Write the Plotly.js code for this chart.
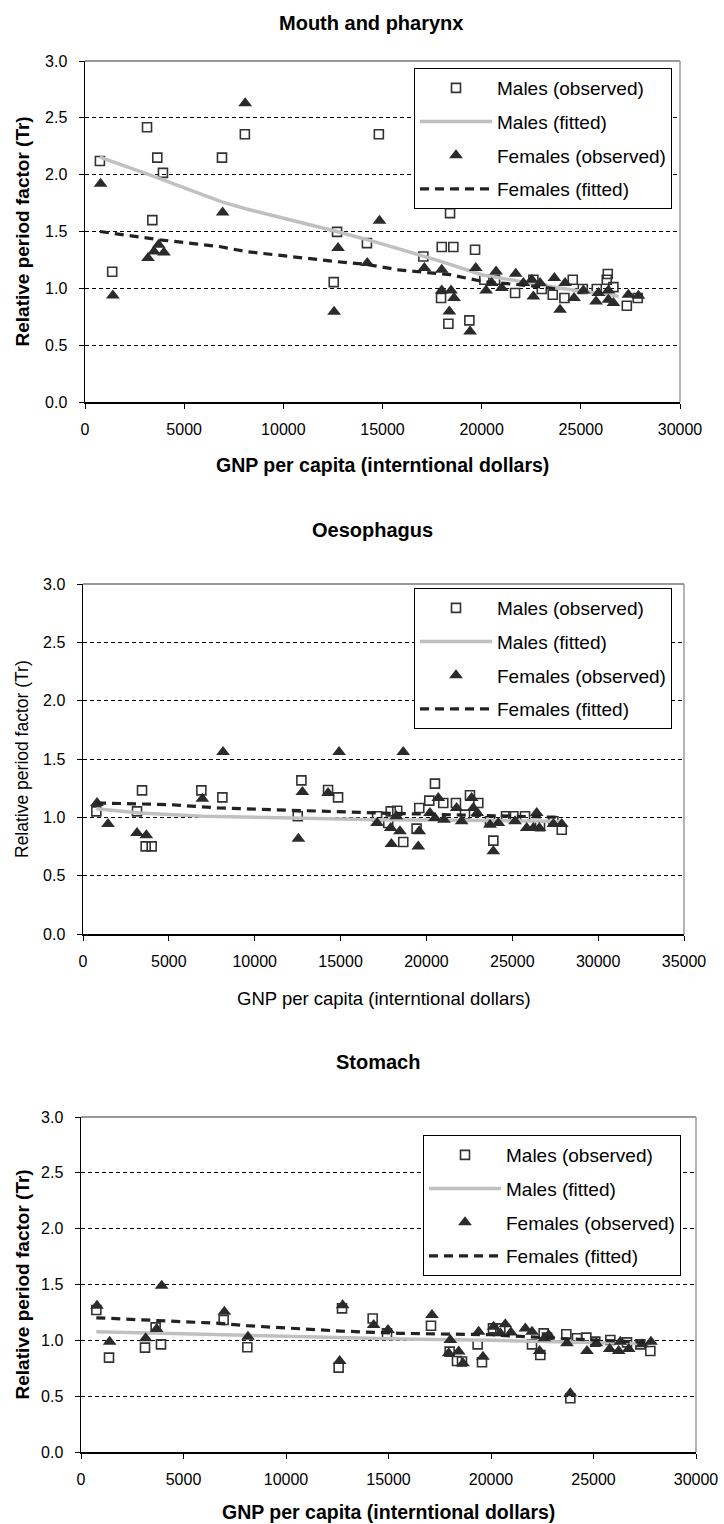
<!DOCTYPE html>
<html><head><meta charset="utf-8">
<script src="https://cdn.plot.ly/plotly-3.0.1.min.js"></script>
<style>
body{margin:0;background:#fff;width:724px;height:1524px;position:relative;overflow:hidden}
.p{position:absolute;left:0;width:724px;height:508px}
</style></head>
<body>
<div id="c1" class="p" style="top:0px"></div>
<div id="c2" class="p" style="top:508px"></div>
<div id="c3" class="p" style="top:1016px"></div>
<script>
// ---------------- DATA ----------------
var seriesNames = ["Males (observed)", "Males (fitted)", "Females (observed)", "Females (fitted)"];
var panelTitles = ["Mouth and pharynx", "Oesophagus", "Stomach"];
var xAxisTitle = "GNP per capita (interntional dollars)";
var yAxisTitle = "Relative period factor (Tr)";

// Mouth and pharynx
var mouthMaleX = [752,1371,3127,3395,3645,3930,6906,8060,12542,12709,14214,14816,17060,17987,18571,18406,19667,17952,18321,19380,20136,20676,21684,22607,23030,23585,24172,24593,25098,25804,26308,26358,26643,27318,27871];
var mouthMaleY = [2.12,1.146,2.417,1.60,2.15,2.016,2.15,2.356,1.055,1.497,1.398,2.356,1.28,1.363,1.363,1.662,1.339,0.915,0.689,0.718,1.076,1.076,0.959,1.076,0.994,0.944,0.915,1.076,0.994,0.994,1.076,1.126,1.011,0.847,0.915];
var mouthFemaleX = [786,1405,3177,3478,3712,3980,6940,8077,12559,12759,14231,14849,17111,17987,17987,18457,18608,18371,19415,19702,20222,20509,20726,21014,21719,22102,22525,22607,22945,23666,23953,24205,24659,25129,25769,25885,26389,26389,26643,27399,27904];
var mouthFemaleY = [1.919,0.938,1.266,1.324,1.383,1.316,1.667,2.628,0.794,1.354,1.222,1.594,1.178,1.164,0.982,0.982,0.915,0.797,0.621,1.178,0.982,1.047,1.149,1.003,1.128,1.047,1.076,0.929,1.047,1.091,0.812,1.047,0.915,0.982,0.885,0.959,0.982,0.90,0.871,0.944,0.935];
var mouthMaleFitX = [752,3400,6900,8100,12700,14800,17900,20000,22600,24000,26900];
var mouthMaleFitY = [2.154,1.99,1.76,1.70,1.50,1.40,1.24,1.12,1.04,1.00,0.93];
var mouthFemaleFitX = [752,3763,6773,8110,12625,14231,15803,18400,20070,22600,24000];
var mouthFemaleFitY = [1.50,1.427,1.368,1.324,1.236,1.21,1.163,1.12,1.06,1.02,0.99];

// Oesophagus
var oesoMaleX = [777,3146,3437,3650,4000,6893,8117,12505,12718,14272,14854,17126,17922,17776,18300,18650,19427,19583,20166,20496,20982,21720,22245,22536,23022,23702,23896,24635,25062,25742,26616,27394,27880];
var oesoMaleY = [1.051,1.051,1.231,0.751,0.751,1.231,1.171,1.009,1.317,1.234,1.171,1.009,1.051,0.951,1.057,0.789,0.903,1.08,1.143,1.289,1.123,1.123,1.023,1.189,1.123,0.966,0.80,1.009,1.009,1.009,0.923,0.966,0.894];
var oesoFemaleX = [816,1456,3146,3689,6951,8155,12544,12777,14272,14913,17126,17922,17961,18252,18456,18650,19525,19583,20205,20690,20496,21021,21759,22051,22633,22730,22963,23702,23896,24188,25159,25839,26228,26422,26577,27394,27880];
var oesoFemaleY = [1.123,0.943,0.866,0.846,1.16,1.56,0.817,1.217,1.209,1.56,0.951,0.909,0.771,1.009,0.88,1.56,0.751,0.88,1.037,1.166,0.994,0.98,1.08,0.966,1.166,1.08,1.037,0.937,0.709,0.951,0.966,0.909,0.909,1.037,0.909,0.943,0.943];
var oesoMaleFitX = [777,3300,6990,12621,17282,22000,27880];
var oesoMaleFitY = [1.074,1.037,1.009,0.994,0.98,0.975,0.965];
var oesoFemaleFitX = [816,5049,7961,12621,17282,22000,27880];
var oesoFemaleFitY = [1.123,1.109,1.08,1.057,1.037,1.02,1.0];

// Stomach
var stomMaleX = [748,1366,3122,3642,3902,6959,8114,12569,12732,14228,14927,17073,17983,18341,18585,19349,19560,20097,20455,22000,22406,22568,22731,23674,23869,24194,24650,25089,25821,26634,27284,27772];
var stomMaleY = [1.271,0.845,0.935,1.116,0.964,1.182,0.9375,0.756,1.286,1.196,1.0625,1.131,0.899,0.815,0.81,0.964,0.804,1.107,1.107,0.964,0.869,1.0625,1.024,1.054,0.482,1.018,1.024,0.988,1.003,0.982,0.964,0.905];
var stomFemaleX = [780,1398,3154,3691,3935,6992,8146,12618,12764,14276,14976,17121,18016,17934,18422,18634,19398,19609,20129,20699,20455,20975,21674,22000,22373,22601,22812,23707,23869,24682,25138,25789,26309,26227,26715,27365,27804];
var stomFemaleY = [1.31,0.988,1.018,1.101,1.488,1.256,1.033,0.815,1.315,1.137,1.092,1.226,1.003,0.884,0.899,0.795,1.077,0.854,1.122,1.143,1.0625,1.071,1.107,1.077,0.905,1.018,1.048,0.973,0.527,0.905,0.973,0.923,0.988,0.905,0.923,0.964,0.988];
var stomMaleFitX = [748,7122,15577,20000,27772];
var stomMaleFitY = [1.077,1.048,1.012,1.0,0.97];
var stomFemaleFitX = [748,3870,6797,8098,12650,15577,20000,23000,27800];
var stomFemaleFitY = [1.202,1.173,1.152,1.131,1.083,1.0625,1.05,1.02,0.98];

// ---------------- DRAW ----------------
var FONT = "Liberation Sans, Arial, sans-serif";

function drawPanel(id, cfg, d) {
  var top = cfg.top, box = cfg.box;
  var pw = box.r - box.l, ph = box.b - box.t;
  function ax(x) { return (x - box.l) / pw; }
  function ay(y) { return (box.b - y) / ph; }
  var traces = [
    {x: d.mx, y: d.my, mode: "markers", type: "scatter", name: seriesNames[0], legendgroup: "a",
     marker: {symbol: "square-open", size: 9, color: "#333", line: {width: 1.6, color: "#333"}}},
    {x: d.mfx, y: d.mfy, mode: "lines", type: "scatter", name: seriesNames[1], legendgroup: "b",
     line: {color: "#c0c0c0", width: 3.5}},
    {x: d.fx, y: d.fy, mode: "markers", type: "scatter", name: seriesNames[2], legendgroup: "c",
     marker: {symbol: "triangle-up", size: 12, color: "#2b2b2b"}},
    {x: d.ffx, y: d.ffy, mode: "lines", type: "scatter", name: seriesNames[3], legendgroup: "d",
     line: {color: "#222", width: 3.2, dash: "9px,6px"}}
  ];
  var tb = cfg.boldAxes ? "<b>" : "", te = cfg.boldAxes ? "</b>" : "";
  var layout = {
    width: 724, height: 508,
    margin: {l: box.l, r: 724 - box.r, t: box.t - top, b: top + 508 - box.b, pad: 0},
    paper_bgcolor: "#fff", plot_bgcolor: "#fff",
    font: {family: FONT, color: "#000", size: 16},
    showlegend: true,
    legend: {x: ax(cfg.leg[0]), y: ay(cfg.leg[1]), xanchor: "left", yanchor: "top",
      bgcolor: "#fff", bordercolor: "#000", borderwidth: 1,
      font: {family: FONT, size: 19, color: "#000"},
      itemwidth: 72, traceorder: "grouped", tracegroupgap: 6},
    xaxis: {range: [0, cfg.xmax], dtick: 5000, tick0: 0, tickformat: "d", ticks: "outside", ticklen: 5,
      tickcolor: "#000", showline: true, linecolor: "#000", linewidth: 1.5, showgrid: false, zeroline: false,
      tickfont: {family: FONT, size: 16, color: "#000"}, ticklabelstandoff: 7, fixedrange: true},
    yaxis: {range: [0, 3], dtick: 0.5, tick0: 0, tickformat: ".1f", ticks: "outside", ticklen: 5,
      tickcolor: "#000", showline: true, linecolor: "#000", linewidth: 1.5, showgrid: true,
      gridcolor: "#000", gridwidth: 1, griddash: "4px,3px", zeroline: false,
      tickfont: {family: FONT, size: 16, color: "#000"}, ticklabelstandoff: 8, fixedrange: true},
    shapes: [
      {type: "line", xref: "paper", yref: "paper", x0: 0, x1: 1, y0: 1, y1: 1, line: {color: "#999", width: 2}},
      {type: "line", xref: "paper", yref: "paper", x0: 1, x1: 1, y0: 0, y1: 1, line: {color: "#999", width: 1.5}}
    ],
    annotations: [
      {text: "<b>" + cfg.title + "</b>", xref: "paper", yref: "paper", x: ax(cfg.titleX), y: ay(cfg.titleY),
       showarrow: false, xanchor: "center", yanchor: "middle", font: {family: FONT, size: 20, color: "#000"}},
      {text: tb + xAxisTitle + te, xref: "paper", yref: "paper", x: 0.5, y: ay(cfg.xTitleY),
       showarrow: false, xanchor: "center", yanchor: "middle", font: {family: FONT, size: cfg.axSize, color: "#000"}},
      {text: tb + yAxisTitle + te, xref: "paper", yref: "paper", x: ax(cfg.yTitleX), y: 0.5, textangle: -90,
       showarrow: false, xanchor: "center", yanchor: "middle", font: {family: FONT, size: cfg.aySize, color: "#000"}}
    ]
  };
  Plotly.newPlot(id, traces, layout, {staticPlot: true, displayModeBar: false});
}

drawPanel("c1", {top: 0, box: {l: 85, r: 680, t: 61, b: 402}, xmax: 30000, title: panelTitles[0],
  titleX: 371, titleY: 23, xTitleY: 465, yTitleX: 22, leg: [414, 68], boldAxes: true, axSize: 19.5, aySize: 19},
  {mx: mouthMaleX, my: mouthMaleY, mfx: mouthMaleFitX, mfy: mouthMaleFitY,
   fx: mouthFemaleX, fy: mouthFemaleY, ffx: mouthFemaleFitX, ffy: mouthFemaleFitY});

drawPanel("c2", {top: 508, box: {l: 83, r: 684, t: 584, b: 934}, xmax: 35000, title: panelTitles[1],
  titleX: 372, titleY: 530, xTitleY: 998, yTitleX: 22, leg: [414, 588], boldAxes: false, axSize: 18.5, aySize: 17.5},
  {mx: oesoMaleX, my: oesoMaleY, mfx: oesoMaleFitX, mfy: oesoMaleFitY,
   fx: oesoFemaleX, fy: oesoFemaleY, ffx: oesoFemaleFitX, ffy: oesoFemaleFitY});

drawPanel("c3", {top: 1016, box: {l: 81, r: 696, t: 1117, b: 1452}, xmax: 30000, title: panelTitles[2],
  titleX: 378, titleY: 1062, xTitleY: 1512, yTitleX: 22, leg: [423, 1135], boldAxes: true, axSize: 19.5, aySize: 19},
  {mx: stomMaleX, my: stomMaleY, mfx: stomMaleFitX, mfy: stomMaleFitY,
   fx: stomFemaleX, fy: stomFemaleY, ffx: stomFemaleFitX, ffy: stomFemaleFitY});
</script>
</body></html>
